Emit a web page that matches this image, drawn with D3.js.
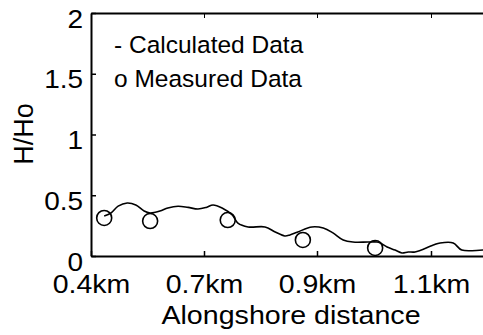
<!DOCTYPE html>
<html>
<head>
<meta charset="utf-8">
<script src="https://cdn.jsdelivr.net/npm/d3@7"></script>
<style>
  body { margin: 0; background: #fff; }
  svg { display: block; font-family: "Liberation Sans", Arial, sans-serif; }
</style>
</head>
<body>
<div id="chart"></div>
<script>
// calculated wave height ratio along the shore (km, H/Ho)
const calcX = [0.435, 0.453, 0.472, 0.496, 0.519, 0.541, 0.557, 0.583, 0.604, 0.631,
  0.658, 0.684, 0.704, 0.716, 0.732, 0.750, 0.760, 0.778, 0.808, 0.826,
  0.843, 0.852, 0.866, 0.891, 0.911, 0.928, 0.946, 0.963, 0.989, 1.005,
  1.011, 1.023, 1.037, 1.049, 1.060, 1.072, 1.104, 1.116, 1.139, 1.154,
  1.191, 1.212];
const calcY = [0.33, 0.354, 0.41, 0.436, 0.42, 0.37, 0.354, 0.37, 0.395, 0.41,
  0.40, 0.387, 0.40, 0.42, 0.395, 0.337, 0.27, 0.239, 0.239, 0.198,
  0.165, 0.173, 0.198, 0.239, 0.23, 0.19, 0.132, 0.115, 0.115, 0.115,
  0.107, 0.074, 0.049, 0.025, 0.033, 0.033, 0.09, 0.107, 0.107, 0.049,
  0.049, 0.049];

// measured points
const measX = [0.435, 0.557, 0.742, 0.875, 1.002];
const measY = [0.313, 0.288, 0.296, 0.132, 0.066];

// axis ticks (alongshore ticks are evenly spaced on the plot)
const xTicks = [0.4, 0.7, 0.9, 1.1];
const xTickLabels = ["0.4km", "0.7km", "0.9km", "1.1km"];
const yTicks = [0, 0.5, 1, 1.5, 2];
const legendLabels = ["- Calculated Data", "o Measured Data"];

const width = 483, height = 335;
const plotLeft = 91, plotTop = 13, plotBottom = 256, plotRight = 545;

const svg = d3.select("#chart")
  .append("svg")
  .attr("width", width)
  .attr("height", height);

// piecewise scale, the ticks are equally spaced although the km steps are not
const xScale = d3.scaleLinear()
  .domain([0.4, 0.7, 0.9, 1.1, 1.3])
  .range([plotLeft, 204, 317, 431, plotRight]);

const yScale = d3.scaleLinear()
  .domain([0, 2])
  .range([plotBottom, plotTop]);

// frame top edge with inward ticks
svg.append("g")
  .attr("transform", `translate(0, ${plotTop})`)
  .call(d3.axisTop(xScale).tickValues(xTicks).tickSize(-5).tickSizeOuter(0).tickFormat(""))
  .call(g => g.select(".domain").attr("stroke-width", 2));

// x axis
const xAxis = svg.append("g")
  .attr("transform", `translate(0, ${plotBottom})`)
  .call(d3.axisBottom(xScale).tickValues(xTicks).tickSize(-5).tickSizeOuter(0)
    .tickFormat((d, i) => xTickLabels[i]));
xAxis.select(".domain").attr("stroke-width", 2);
xAxis.selectAll(".tick line").attr("stroke-width", 1.5);
xAxis.selectAll("text")
  .attr("y", 37)
  .attr("dy", null)
  .attr("fill", "#000")
  .attr("transform", "scale(1.14,1)") // the original font is a bit wider
  .style("font-size", "25px");

// y axis
const yAxis = svg.append("g")
  .attr("transform", `translate(${plotLeft}, 0)`)
  .call(d3.axisLeft(yScale).tickValues(yTicks).tickSize(-5).tickSizeOuter(0)
    .tickFormat(d3.format("")));
yAxis.select(".domain").attr("stroke-width", 2);
yAxis.selectAll(".tick line").attr("stroke-width", 1.5);
yAxis.selectAll("text")
  .attr("x", -7)
  .attr("dy", "14px")
  .attr("fill", "#000")
  .attr("transform", "scale(1.12,1)")
  .style("font-size", "25px");

// calculated line
const calcData = calcX.map((x, i) => ({ x: x, y: calcY[i] }));
const line = d3.line()
  .x(d => xScale(d.x))
  .y(d => yScale(d.y))
  .curve(d3.curveCatmullRom);

svg.append("path")
  .datum(calcData)
  .attr("d", line)
  .attr("fill", "none")
  .attr("stroke", "#000")
  .attr("stroke-width", 1.6);

// measured circles
svg.selectAll("circle")
  .data(measX.map((x, i) => ({ x: x, y: measY[i] })))
  .join("circle")
  .attr("cx", d => xScale(d.x))
  .attr("cy", d => yScale(d.y))
  .attr("r", 7.5)
  .attr("fill", "none")
  .attr("stroke", "#000")
  .attr("stroke-width", 1.6);

// legend as plain text
svg.selectAll(".legend")
  .data(legendLabels)
  .join("text")
  .attr("class", "legend")
  .attr("x", 114)
  .attr("y", (d, i) => 53 + i * 34)
  .style("font-size", "24.5px")
  .text(d => d);

// axis titles
svg.append("text")
  .attr("transform", "translate(291, 324) scale(1.1,1)")
  .attr("text-anchor", "middle")
  .style("font-size", "26px")
  .text("Alongshore distance");

svg.append("text")
  .attr("transform", `translate(33, 134) rotate(-90)`)
  .attr("text-anchor", "middle")
  .style("font-size", "27px")
  .text("H/Ho");
</script>
</body>
</html>
